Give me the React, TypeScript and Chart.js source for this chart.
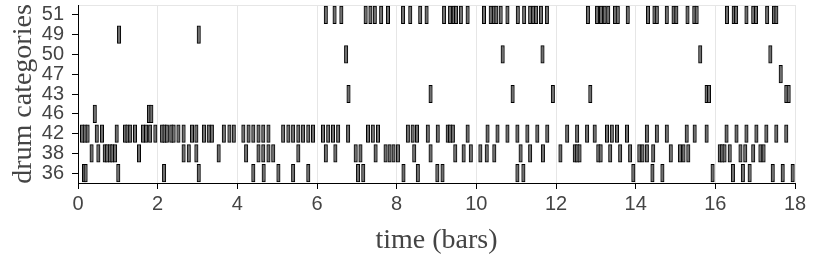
import React, { useEffect, useRef } from 'react';
import { Chart, registerables } from 'chart.js';

Chart.register(...registerables);

// drum categories, top to bottom
const CATEGORIES = ['51', '49', '50', '47', '43', '46', '42', '38', '36'];
const X_MIN = 0;
const X_MAX = 18;
const X_STEP = 2;
// every hit lasts a sixteenth of a bar
const NOTE_LEN = 1 / 16;

// onset times (bars) per drum category
const hits51 = [
  6.19, 6.41, 6.58, 7.19, 7.31, 7.42, 7.58, 7.75, 8.13, 8.31, 8.56, 8.72,
  9.16, 9.31, 9.4, 9.46, 9.58, 9.75, 10.16, 10.33, 10.41, 10.47, 10.58, 10.75,
  11.01, 11.17, 11.32, 11.4, 11.47, 11.59, 11.74, 12.77, 13.0, 13.1, 13.19,
  13.28, 13.45, 13.52, 13.77, 14.28, 14.44, 14.5, 14.75, 14.92, 14.99, 15.27,
  15.44, 15.5, 16.26, 16.43, 16.49, 16.75, 16.92, 16.99, 17.27, 17.44, 17.5,
];
const hits49 = [1.0, 3.0];
const hits50 = [6.7, 10.63, 11.63, 15.59, 17.35];
const hits47 = [17.61];
const hits43 = [6.76, 8.82, 10.88, 11.89, 12.83, 15.75, 15.81, 17.75, 17.81];
const hits46 = [0.39, 1.75, 1.81];
const hits42 = [
  0.07, 0.14, 0.21, 0.44, 0.57, 0.94, 1.15, 1.21, 1.28, 1.4, 1.6, 1.68, 1.78,
  1.91, 2.08, 2.14, 2.2, 2.31, 2.37, 2.49, 2.62, 2.83, 2.94, 3.13, 3.25, 3.33,
  3.63, 3.77, 3.88, 4.12, 4.25, 4.37, 4.5, 4.62, 4.75, 5.12, 5.25, 5.37, 5.5,
  5.62, 5.75, 5.87, 6.12, 6.25, 6.37, 6.5, 6.75, 7.25, 7.37, 7.5, 8.25, 8.37,
  8.48, 8.75, 9.0, 9.25, 9.31, 9.38, 9.75, 10.25, 10.5, 10.75, 11.0, 11.25,
  11.5, 11.75, 12.25, 12.5, 12.75, 12.94, 13.25, 13.37, 13.5, 13.75, 14.25,
  14.5, 14.75, 15.25, 15.45, 15.75, 16.25, 16.5, 16.75, 17.0, 17.25, 17.5,
  17.75,
];
const hits38 = [
  0.31, 0.48, 0.64, 0.7, 0.77, 0.83, 0.9, 1.5, 2.62, 2.75, 2.94, 3.5, 4.19,
  4.5, 4.62, 4.75, 4.87, 5.5, 6.19, 6.43, 6.94, 7.06, 7.44, 7.69, 7.79, 7.89,
  8.0, 8.41, 8.82, 9.44, 9.65, 9.83, 10.07, 10.23, 10.42, 11.08, 11.32, 11.64,
  12.08, 12.44, 12.5, 12.56, 13.03, 13.09, 13.33, 13.58, 13.83, 14.06, 14.14,
  14.25, 14.41, 14.85, 15.08, 15.17, 15.29, 16.08, 16.14, 16.2, 16.33, 16.6,
  16.72, 16.92, 17.1, 17.18,
];
const hits36 = [
  0.12, 0.16, 0.98, 2.13, 3.0, 4.37, 4.63, 5.0, 5.37, 5.75, 7.0, 7.13, 8.14,
  8.5, 8.99, 9.12, 11.0, 11.15, 13.91, 14.39, 14.64, 15.9, 16.41, 16.66, 16.83,
  17.41, 17.66, 17.91,
];

const ROWS: [string, number[]][] = [
  ['51', hits51],
  ['49', hits49],
  ['50', hits50],
  ['47', hits47],
  ['43', hits43],
  ['46', hits46],
  ['42', hits42],
  ['38', hits38],
  ['36', hits36],
];

const TICK_FONT = { family: "'Liberation Sans', Arial, sans-serif", size: 20 };
const TITLE_FONT = { family: "'Liberation Serif', 'Times New Roman', serif", size: 28 };
const TEXT_COLOR = '#444444';

export default function App() {
  const ref = useRef<HTMLCanvasElement>(null);

  useEffect(() => {
    const data: { x: [number, number]; y: string }[] = [];
    for (const [cat, hits] of ROWS) {
      for (const t of hits) data.push({ y: cat, x: [t, t + NOTE_LEN] });
    }
    const chart = new Chart(ref.current as HTMLCanvasElement, {
      type: 'bar',
      data: {
        labels: CATEGORIES,
        datasets: [
          {
            data: data as any,
            backgroundColor: '#6f6f6f',
            borderColor: '#000000',
            borderWidth: 1,
            borderSkipped: false,
            inflateAmount: 0.8,
            barPercentage: 0.84,
            categoryPercentage: 1,
          } as any,
        ],
      },
      options: {
        indexAxis: 'y',
        responsive: false,
        animation: false,
        layout: { padding: { top: 5, right: 35, left: 0, bottom: 0 } },
        plugins: { legend: { display: false }, tooltip: { enabled: false } },
        scales: {
          x: {
            type: 'linear',
            position: 'bottom',
            min: X_MIN,
            max: X_MAX,
            ticks: {
              stepSize: X_STEP,
              font: TICK_FONT,
              color: TEXT_COLOR,
              padding: 3,
              maxRotation: 0,
            },
            grid: { color: '#e6e6e6', tickColor: '#000000', tickLength: 6, lineWidth: 1 },
            border: { color: '#000000', width: 1 },
            title: {
              display: true,
              text: 'time (bars)',
              font: TITLE_FONT,
              color: TEXT_COLOR,
              padding: { top: 0, bottom: 4 },
            },
            afterFit: (s: any) => {
              s.height = 78;
              s.paddingLeft = 0;
              s.paddingRight = 0;
            },
          },
          x2: {
            type: 'linear',
            position: 'top',
            min: X_MIN,
            max: X_MAX,
            ticks: { display: false },
            grid: { display: false },
            border: { color: '#e6e6e6', width: 1 },
            afterFit: (s: any) => {
              s.height = 0;
              s.paddingLeft = 0;
              s.paddingRight = 0;
            },
          },
          y: {
            type: 'category',
            labels: CATEGORIES,
            offset: true,
            ticks: { font: TICK_FONT, color: TEXT_COLOR, padding: 8, autoSkip: false },
            grid: {
              offset: false,
              drawOnChartArea: false,
              tickColor: '#000000',
              tickLength: 6,
            },
            border: { color: '#000000', width: 1 },
            title: {
              display: true,
              text: 'drum categories',
              font: TITLE_FONT,
              color: TEXT_COLOR,
              padding: { top: 7, bottom: 0 },
            },
            afterFit: (s: any) => {
              s.width = 78;
              s.paddingTop = 0;
              s.paddingBottom = 0;
            },
          },
        },
      } as any,
    });
    return () => chart.destroy();
  }, []);

  return (
    <div style={{ position: 'fixed', left: 0, top: 0, width: 830, height: 261 }}>
      <canvas ref={ref} width={830} height={261} style={{ width: 830, height: 261 }} />
    </div>
  );
}
